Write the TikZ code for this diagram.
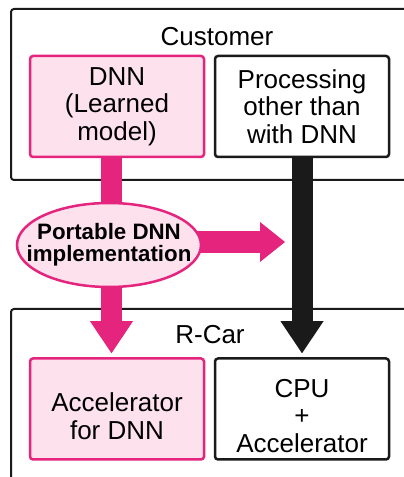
\documentclass[tikz,border=0pt]{standalone}
\usepackage{fontspec}
\setmainfont{Liberation Sans}
\usepackage{tikz}
\usetikzlibrary{arrows.meta,shapes.geometric}
\definecolor{rpink}{HTML}{E5247E}
\definecolor{rpinkfill}{HTML}{FDE1EC}
\definecolor{rblack}{HTML}{1A1A1A}
\tikzset{
  outerbox/.style={draw=rblack, line width=2pt, rounded corners=3pt},
  boxtext/.style={font=\fontsize{26}{27.5}\selectfont},
  innerbox/.style={boxtext, draw=rblack, line width=2.5pt, rounded corners=3pt,
    minimum width=174pt, minimum height=101pt, align=center, inner sep=0pt},
  pinkbox/.style={innerbox, draw=rpink, fill=rpinkfill},
  lowtext/.style={label={[boxtext, align=center, yshift=-7pt]center:#1}},
  fatarrow/.style={line width=21pt, shorten >=4pt,
    -{Triangle[length=32pt,width=43pt,line width=0pt]}}
}

\begin{document}
\begin{tikzpicture}[x=1pt,y=1pt]
    \useasboundingbox (0,0) rectangle (404,477);
    % customer side
    \draw[outerbox] (11,468) rectangle (412,297);
    \node[boxtext] (cust) at (217,440) {Customer};
    \node[pinkbox] (dnn) at (117,370.5) {DNN\\(Learned\\model)};
    \node[innerbox] (proc) at (302,370.5) {Processing\\other than\\with DNN};
    % R-Car side
    \draw[outerbox] (11,168) rectangle (412,-10);
    \node[boxtext] (rcar) at (210,142) {R-Car};
    \node[pinkbox, lowtext={Accelerator\\for DNN}] (acc) at (117,68) {};
    \node[innerbox, lowtext={CPU\\+\\Accelerator}] (cpu) at (302,68) {};
    % arrows
    \draw[fatarrow, rpink] ([xshift=-5.5pt]dnn.south) -- ([xshift=-5.5pt]acc.north);
    \draw[fatarrow, rblack] (proc.south) -- (cpu.north);
    \coordinate (port) at (109,232);
    \coordinate (tip) at (285,235);
    \draw[line width=22pt, rpink, -{Triangle[length=25pt,width=40pt,line width=0pt]}] (port |- tip) -- (tip);
    \node[ellipse, draw=rpink, fill=rpinkfill, line width=2.5pt, minimum width=184pt,
      minimum height=84pt, inner xsep=-17.5pt, inner ysep=0pt, align=center,
      font=\bfseries\fontsize{22.3}{22}\selectfont] (impl) at (port) {Portable DNN\\implementation};
\end{tikzpicture}
\end{document}
